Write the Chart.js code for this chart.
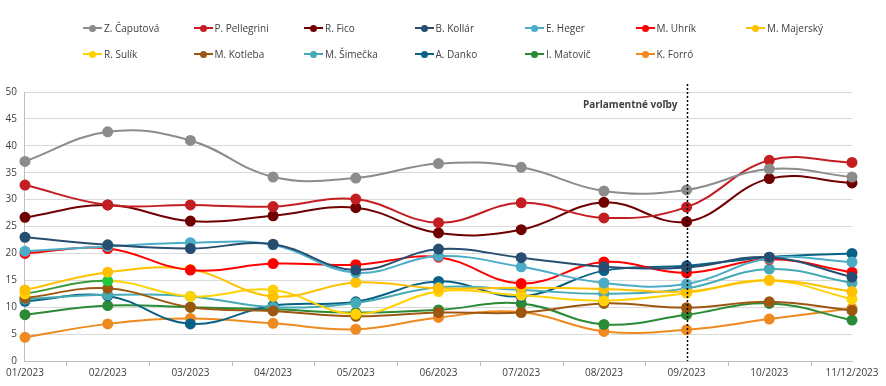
<!DOCTYPE html>
<html>
<head>
<meta charset="utf-8">
<script src="https://cdn.jsdelivr.net/npm/chart.js@4.4.1/dist/chart.umd.min.js"></script>
<style>
  html, body { margin: 0; padding: 0; background: #fff; }
  #wrap { position: relative; width: 886px; height: 386px; }
  #legend { position: absolute; left: 83px; top: 18px; display: grid; grid-template-columns: repeat(7, 110.5px); grid-auto-rows: 26px; font: 10px "Open Sans", sans-serif; color: #404040; }
  .item { display: flex; align-items: center; height: 20px; white-space: nowrap; }
  .mark { position: relative; width: 19px; height: 10px; margin-right: 2px; }
  .mark .ln { position: absolute; left: 0; right: 0; top: 4px; height: 2px; }
  .mark .dot { position: absolute; left: 6px; top: 1.5px; width: 7px; height: 7px; border-radius: 50%; }
</style>
</head>
<body>
<div id="wrap">
  <canvas id="chart" width="886" height="386"></canvas>
  <div id="legend"></div>
</div>
<script>
const months = ["01/2023", "02/2023", "03/2023", "04/2023", "05/2023", "06/2023", "07/2023", "08/2023", "09/2023", "10/2023", "11/12/2023"];

const caputova  = [37.1, 42.6, 41.0, 34.2, 34.0, 36.7, 36.0, 31.6, 31.8, 35.7, 34.2];
const pellegrini = [32.7, 29.0, 29.0, 28.7, 30.1, 25.7, 29.4, 26.6, 28.6, 37.3, 36.9];
const fico      = [26.7, 29.0, 26.0, 27.0, 28.5, 23.8, 24.4, 29.5, 25.9, 33.9, 33.1];
const kollar    = [23.0, 21.6, 20.9, 21.7, 16.9, 20.8, 19.2, 17.5, 17.4, 19.3, 15.6];
const heger     = [20.4, 21.3, 22.0, 21.6, 16.4, 19.5, 17.5, 14.5, 14.3, 19.1, 18.4];
const uhrik     = [20.0, 20.9, 16.9, 18.1, 17.9, 19.3, 14.4, 18.4, 16.4, 18.9, 16.5];
const majersky  = [13.2, 16.5, 17.0, 12.0, 14.6, 13.5, 13.6, 13.4, 12.9, 15.0, 12.9];
const sulik     = [12.5, 14.9, 12.0, 13.2, 8.7, 12.9, 12.2, 11.2, 12.6, 15.0, 11.5];
const kotleba   = [11.7, 13.5, 10.0, 9.3, 8.3, 9.0, 9.0, 10.7, 9.9, 11.0, 9.4];
const simecka   = [11.5, 12.3, 12.0, 10.0, 10.8, 13.7, 13.2, 12.5, 13.5, 17.1, 14.5];
const danko     = [11.1, 12.1, 6.9, 10.3, 11.0, 14.8, 12.0, 16.8, 17.7, 19.3, 20.0];
const matovic   = [8.6, 10.3, 10.0, 9.6, 9.0, 9.5, 10.7, 6.8, 8.6, 10.7, 7.6];
const forro     = [4.4, 6.9, 7.9, 7.0, 5.9, 8.1, 9.1, 5.5, 5.8, 7.8, 9.8];

const electionIndex = 8;
const electionLabel = "Parlamentné voľby";

const series = [
  { label: "Z. Čaputová", data: caputova, color: "#8c8c8c" },
  { label: "P. Pellegrini", data: pellegrini, color: "#c41e22" },
  { label: "R. Fico", data: fico, color: "#700000" },
  { label: "B. Kollár", data: kollar, color: "#274e70" },
  { label: "E. Heger", data: heger, color: "#4bacc6" },
  { label: "M. Uhrík", data: uhrik, color: "#ff0000" },
  { label: "M. Majerský", data: majersky, color: "#ffc000" },
  { label: "R. Sulík", data: sulik, color: "#ffd200" },
  { label: "M. Kotleba", data: kotleba, color: "#9c5710" },
  { label: "M. Šimečka", data: simecka, color: "#45aab6" },
  { label: "A. Danko", data: danko, color: "#0a6186" },
  { label: "I. Matovič", data: matovic, color: "#2a8a35" },
  { label: "K. Forró", data: forro, color: "#ee8a20" },
];

const datasets = series.map((s) => {
  const ds = {
    label: s.label,
    data: s.data,
    borderColor: s.color,
    backgroundColor: s.color,
    pointBackgroundColor: s.color,
    pointBorderColor: s.color,
    borderWidth: 2,
    pointRadius: 4.5,
    tension: 0.4,
  };
  if (s.label === "R. Sulík") {
    // first segment and second marker are green in the original
    ds.segment = { borderColor: (ctx) => (ctx.p0DataIndex === 0 ? "#3a9a3a" : undefined) };
    ds.pointBackgroundColor = s.data.map((v, i) => (i === 1 ? "#1ec83c" : s.color));
    ds.pointBorderColor = ds.pointBackgroundColor;
  }
  return ds;
});

// draws small tick marks between categories and the election marker
const extras = {
  id: "extras",
  afterDraw(chart) {
    const { ctx, chartArea, scales } = chart;
    const x = scales.x;
    ctx.save();
    ctx.strokeStyle = "#bfbfbf";
    ctx.lineWidth = 1;
    for (let i = 0; i < months.length - 1; i++) {
      const px = Math.round((x.getPixelForValue(i) + x.getPixelForValue(i + 1)) / 2) + 0.5;
      ctx.beginPath();
      ctx.moveTo(px, chartArea.bottom);
      ctx.lineTo(px, chartArea.bottom + 5);
      ctx.stroke();
    }
    const ex = Math.round(x.getPixelForValue(electionIndex)) + 0.5;
    ctx.strokeStyle = "#000";
    ctx.lineWidth = 1.5;
    ctx.setLineDash([2, 2]);
    ctx.beginPath();
    ctx.moveTo(ex, chartArea.top - 8);
    ctx.lineTo(ex, chartArea.bottom);
    ctx.stroke();
    ctx.setLineDash([]);
    ctx.fillStyle = "#404040";
    ctx.font = "bold 10px 'Open Sans', sans-serif";
    ctx.textAlign = "right";
    ctx.textBaseline = "middle";
    ctx.fillText(electionLabel, ex - 10, chartArea.top + 13);
    ctx.restore();
  },
};

const chart = new Chart(document.getElementById("chart"), {
  type: "line",
  data: { labels: months, datasets },
  options: {
    responsive: false,
    animation: false,
    layout: { padding: { top: 92, right: 34, left: 0, bottom: 0 } },
    plugins: { legend: { display: false }, tooltip: { enabled: false } },
    scales: {
      x: {
        offset: false,
        grid: { display: false, drawTicks: false },
        border: { color: "#bfbfbf" },
        ticks: { color: "#404040", font: { family: "Open Sans", size: 10 }, padding: 6, maxRotation: 0, autoSkip: false },
        afterFit: (s) => { s.height = 25; },
      },
      y: {
        min: 0,
        max: 50,
        ticks: { stepSize: 5, color: "#404040", font: { family: "Open Sans", size: 10 }, padding: 8 },
        grid: { color: "#d9d9d9", drawTicks: false },
        border: { color: "#bfbfbf" },
        afterFit: (s) => { s.width = 24; },
      },
    },
  },
  plugins: [extras],
});

// legend in fixed columns like the original
const legend = document.getElementById("legend");
series.forEach((s) => {
  const item = document.createElement("div");
  item.className = "item";
  item.innerHTML = '<span class="mark"><span class="ln" style="background:' + s.color + '"></span><span class="dot" style="background:' + s.color + '"></span></span>' + s.label;
  legend.appendChild(item);
});
</script>
</body>
</html>
